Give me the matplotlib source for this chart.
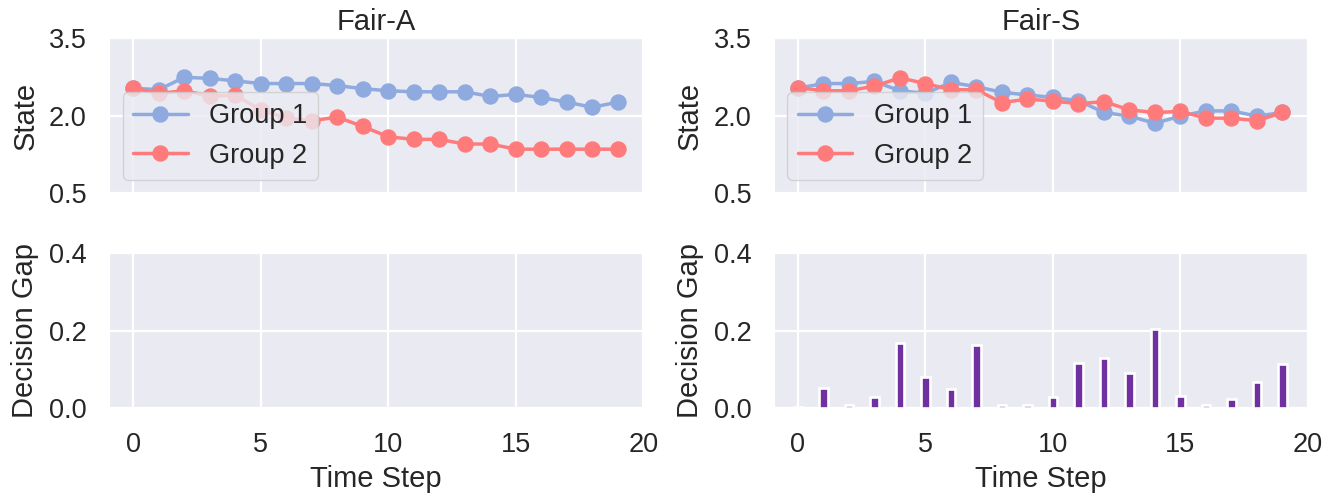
import numpy as np
import matplotlib
matplotlib.use("Agg")
import matplotlib.pyplot as plt
import seaborn as sns

# time steps
steps = list(range(20))

# Fair-A states
state_a_g1 = [2.53, 2.50, 2.74, 2.72, 2.67, 2.62, 2.62, 2.62, 2.58, 2.52,
              2.48, 2.46, 2.46, 2.46, 2.37, 2.41, 2.35, 2.26, 2.16, 2.26]
state_a_g2 = [2.53, 2.43, 2.48, 2.38, 2.39, 2.11, 1.95, 1.90, 1.97, 1.79,
              1.59, 1.54, 1.54, 1.45, 1.45, 1.35, 1.35, 1.35, 1.35, 1.35]

# Fair-S states
state_s_g1 = [2.53, 2.62, 2.62, 2.66, 2.48, 2.43, 2.64, 2.56, 2.45, 2.40,
              2.35, 2.29, 2.06, 1.99, 1.85, 1.99, 2.09, 2.09, 1.99, 2.06]
state_s_g2 = [2.54, 2.48, 2.48, 2.57, 2.73, 2.62, 2.50, 2.50, 2.25, 2.32,
              2.28, 2.23, 2.27, 2.11, 2.06, 2.08, 1.95, 1.95, 1.90, 2.06]

# decision gaps (Fair-A has none)
gap_a = [0.0] * 20
gap_s = [0.003, 0.053, 0.009, 0.030, 0.168, 0.080, 0.049, 0.164, 0.008, 0.009,
         0.028, 0.118, 0.129, 0.091, 0.205, 0.031, 0.008, 0.024, 0.069, 0.115]

titles = ["Fair-A", "Fair-S"]
blue = "#8eaadf"
red = "#ff7b7b"
purple = "#7030a0"

sns.set_style("darkgrid")
plt.rcParams['font.family'] = ['Liberation Sans', 'DejaVu Sans']
plt.rcParams['grid.linewidth'] = 1.6

LBL = 21
TCK = 19.5
LEG = 19.5

fig, axes = plt.subplots(2, 2, figsize=(13.36, 4.97), dpi=100, sharex=True)
fig.subplots_adjust(left=0.0816, right=0.979, top=0.9235, bottom=0.1785,
                    hspace=0.387, wspace=0.244)

states = [(state_a_g1, state_a_g2), (state_s_g1, state_s_g2)]
gaps = [gap_a, gap_s]

for col in range(2):
    ax = axes[0, col]
    g1, g2 = states[col]
    ax.plot(steps, g1, '-o', color=blue, lw=2.5, ms=10.8, mec=blue, label="Group 1")
    ax.plot(steps, g2, '-o', color=red, lw=2.5, ms=10.8, mec=red, label="Group 2")
    ax.set_ylim(0.5, 3.5)
    ax.set_yticks([0.5, 2.0, 3.5])
    ax.set_ylabel("State", fontsize=LBL, labelpad=7)
    ax.set_title(titles[col], fontsize=LBL)
    ax.legend(loc="lower left", fontsize=LEG)

    ax = axes[1, col]
    lws = [1.9 if v > 0 else 0 for v in gaps[col]]
    ax.bar(steps, gaps[col], width=0.33, color=purple, edgecolor="white", linewidth=lws)
    ax.set_ylim(0, 0.4)
    ax.set_yticks([0.0, 0.2, 0.4])
    ax.set_ylabel("Decision Gap", fontsize=LBL, labelpad=7)
    ax.set_xlabel("Time Step", fontsize=LBL, labelpad=5)

for ax in axes.flat:
    ax.set_xlim(-0.95, 19.95)
    ax.set_xticks([0, 5, 10, 15, 20])
    ax.tick_params(axis='x', labelsize=TCK, length=0, pad=17)
    ax.tick_params(axis='y', labelsize=TCK, length=0, pad=16)

fig.savefig("out.png", dpi=100)
